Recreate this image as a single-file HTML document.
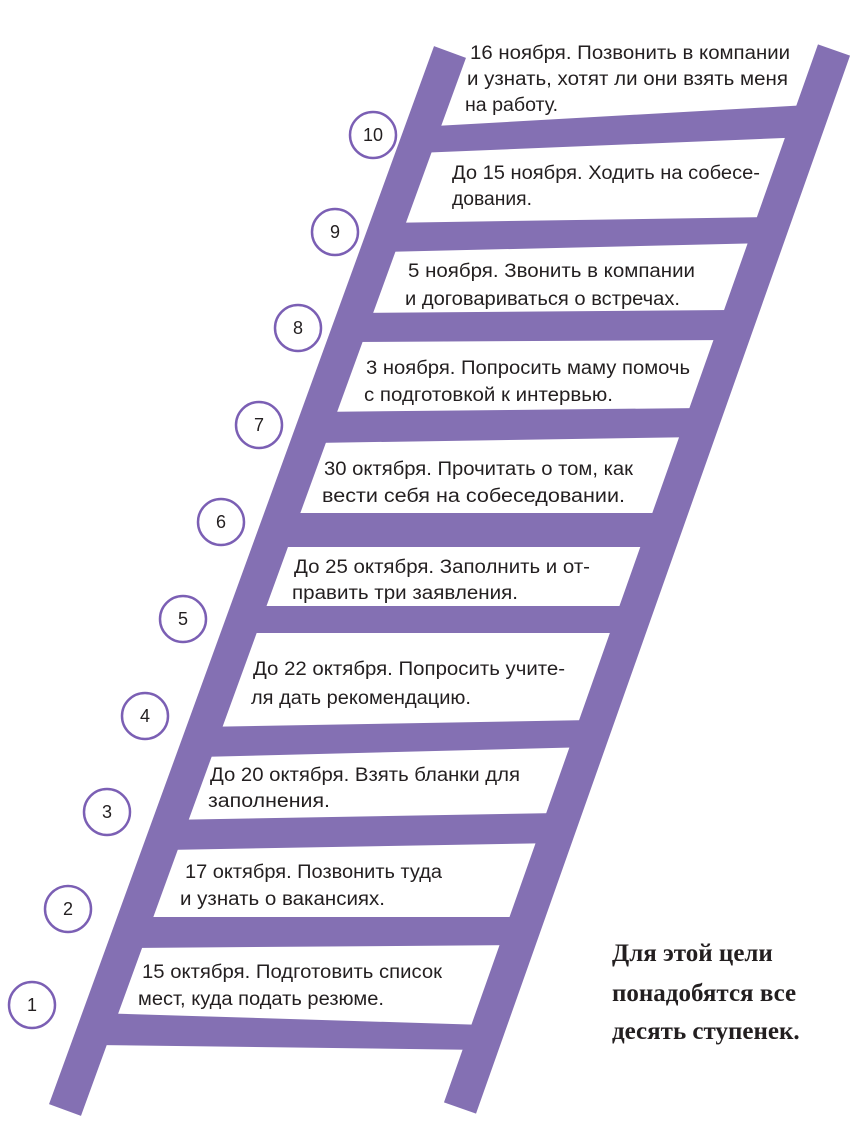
<!DOCTYPE html>
<html><head><meta charset="utf-8"><style>
html,body{margin:0;padding:0;background:#fff;}
svg{display:block;}
.t{font-family:"Liberation Sans","DejaVu Sans",sans-serif;font-size:19px;fill:#231f20;}
.n{font-family:"Liberation Sans","DejaVu Sans",sans-serif;font-size:18px;fill:#231f20;text-anchor:middle;}
.b{font-family:"Liberation Serif","DejaVu Serif",serif;font-weight:bold;font-size:25px;fill:#231f20;}
</style></head><body>
<svg width="862" height="1138" viewBox="0 0 862 1138" xmlns="http://www.w3.org/2000/svg">
<g stroke="#8470b3" stroke-width="34" fill="none" stroke-linecap="butt">
<line x1="450" y1="52" x2="65" y2="1110"/>
<line x1="834" y1="50" x2="460" y2="1108"/>
</g>
<g fill="#8470b3" stroke="none">
<polygon points="417,127 808,105 808,137 417,153"/>
<polygon points="382,223 770,217 770,243 382,252"/>
<polygon points="349,313 731,310 731,340 349,342"/>
<polygon points="313,412 702,408 702,437 313,443"/>
<polygon points="276,513 664,513 664,547 276,547"/>
<polygon points="243,606 632,606 632,633 243,633"/>
<polygon points="199,727 592,720 592,747 199,757"/>
<polygon points="165,820 559,813 559,843 165,850"/>
<polygon points="130,917 522,917 522,945 130,948"/>
<polygon points="95,1013 485,1025 485,1050 95,1045"/>
</g>
<g fill="none" stroke="#7b5fb4" stroke-width="2.5">
<circle cx="32" cy="1005" r="23"/>
<circle cx="68" cy="909" r="23"/>
<circle cx="107" cy="812" r="23"/>
<circle cx="145" cy="716" r="23"/>
<circle cx="183" cy="619" r="23"/>
<circle cx="221" cy="522" r="23"/>
<circle cx="259" cy="425" r="23"/>
<circle cx="298" cy="328" r="23"/>
<circle cx="335" cy="232" r="23"/>
<circle cx="373" cy="135" r="23"/>
</g>
<g class="n">
<text x="32" y="1011">1</text>
<text x="68" y="915">2</text>
<text x="107" y="818">3</text>
<text x="145" y="722">4</text>
<text x="183" y="625">5</text>
<text x="221" y="528">6</text>
<text x="259" y="431">7</text>
<text x="298" y="334">8</text>
<text x="335" y="238">9</text>
<text x="373" y="141">10</text>
</g>
<g class="t">
<text x="470" y="59" textLength="320" lengthAdjust="spacingAndGlyphs">16 ноября. Позвонить в компании</text>
<text x="467" y="85" textLength="321" lengthAdjust="spacingAndGlyphs">и узнать, хотят ли они  взять меня</text>
<text x="465" y="111" textLength="93" lengthAdjust="spacingAndGlyphs">на работу.</text>
<text x="452" y="179" textLength="308" lengthAdjust="spacingAndGlyphs">До 15 ноября. Ходить на собесе-</text>
<text x="452" y="205" textLength="80" lengthAdjust="spacingAndGlyphs">дования.</text>
<text x="408" y="277" textLength="287" lengthAdjust="spacingAndGlyphs">5 ноября. Звонить в компании</text>
<text x="405" y="305" textLength="275" lengthAdjust="spacingAndGlyphs">и договариваться о встречах.</text>
<text x="366" y="374" textLength="324" lengthAdjust="spacingAndGlyphs">3 ноября. Попросить маму помочь</text>
<text x="364" y="401" textLength="249" lengthAdjust="spacingAndGlyphs">с подготовкой к интервью.</text>
<text x="324" y="475" textLength="309" lengthAdjust="spacingAndGlyphs">30 октября. Прочитать о том, как</text>
<text x="322" y="502" textLength="303" lengthAdjust="spacingAndGlyphs">вести себя на собеседовании.</text>
<text x="294" y="573" textLength="296" lengthAdjust="spacingAndGlyphs">До 25 октября. Заполнить и от-</text>
<text x="292" y="599" textLength="226" lengthAdjust="spacingAndGlyphs">править три заявления.</text>
<text x="253" y="675" textLength="312" lengthAdjust="spacingAndGlyphs">До 22 октября. Попросить учите-</text>
<text x="251" y="704" textLength="220" lengthAdjust="spacingAndGlyphs">ля дать рекомендацию.</text>
<text x="210" y="781" textLength="310" lengthAdjust="spacingAndGlyphs">До 20 октября. Взять бланки для</text>
<text x="208" y="807" textLength="122" lengthAdjust="spacingAndGlyphs">заполнения.</text>
<text x="185" y="878" textLength="257" lengthAdjust="spacingAndGlyphs">17 октября. Позвонить туда</text>
<text x="180" y="905" textLength="205" lengthAdjust="spacingAndGlyphs">и узнать о вакансиях.</text>
<text x="142" y="978" textLength="300" lengthAdjust="spacingAndGlyphs">15 октября. Подготовить список</text>
<text x="138" y="1005" textLength="246" lengthAdjust="spacingAndGlyphs">мест, куда подать резюме.</text>
</g>
<g class="b">
<text x="612" y="961">Для этой цели</text>
<text x="612" y="1001">понадобятся все</text>
<text x="612" y="1039">десять ступенек.</text>
</g>
</svg>
</body></html>
